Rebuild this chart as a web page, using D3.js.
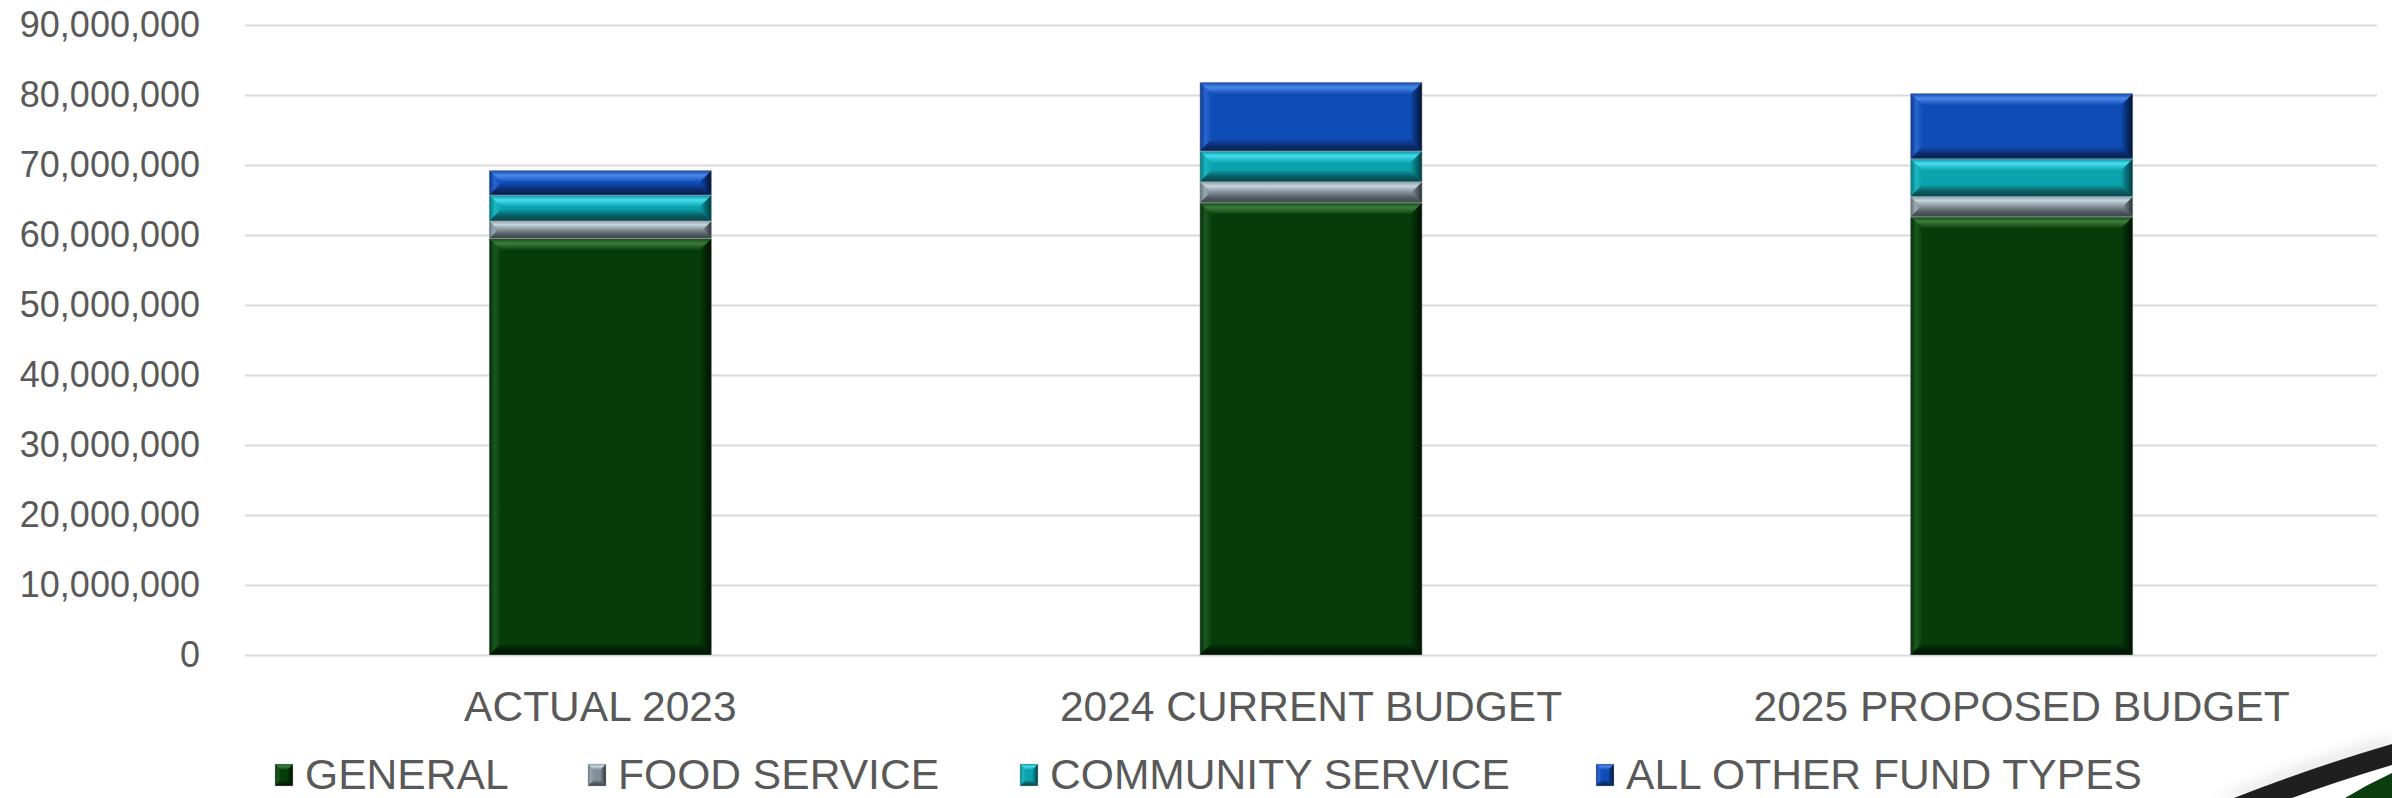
<!DOCTYPE html>
<html>
<head>
<meta charset="utf-8">
<script src="https://cdn.jsdelivr.net/npm/d3@7"></script>
<style>
  html, body { margin: 0; padding: 0; background: #ffffff; }
  svg { display: block; }
  text { font-family: "Liberation Sans", Arial, Helvetica, sans-serif; fill: #595959; }
</style>
</head>
<body>
<svg id="chart" width="2392" height="798"></svg>
<script>
// ---- data ----
const categories = ["ACTUAL 2023", "2024 CURRENT BUDGET", "2025 PROPOSED BUDGET"];
const seriesNames = ["GENERAL", "FOOD SERVICE", "COMMUNITY SERVICE", "ALL OTHER FUND TYPES"];
const general          = [59500000, 64600000, 62600000];
const foodService      = [2500000, 3000000, 2900000];
const communityService = [3700000, 4400000, 5400000];
const allOther         = [3500000, 9800000, 9300000];
const yTicks = [0, 10000000, 20000000, 30000000, 40000000, 50000000, 60000000, 70000000, 80000000, 90000000];

// ---- styles (per series palette) ----
const palettes = [
  { base: "#063c0a", top0: "#0f4a13", hi: "#3c7c3c", bot: "#021f05", botEdge: "#011203", right: "#001000", left0: "#03280a", left1: "#1a5a1e" },
  { base: "#818f97", top0: "#8e9ca4", hi: "#c6d6de", bot: "#4f5a60", botEdge: "#3a4348", right: "#2a3034", left0: "#5d6a71", left1: "#9aa9b1" },
  { base: "#0aa2ac", top0: "#0b8f98", hi: "#46def0", bot: "#0a5e64", botEdge: "#074549", right: "#04393d", left0: "#06727a", left1: "#1ab7c2" },
  { base: "#0e4cb6", top0: "#1546a6", hi: "#4a88ea", bot: "#0c2d6e", botEdge: "#0a1f4d", right: "#03122e", left0: "#0a3486", left1: "#2a66d2" }
];
const seriesData = [general, foodService, communityService, allOther];

const svg = d3.select("#chart");
const plotLeft = 245, plotRight = 2377, plotTop = 25, plotBottom = 655;

const x = d3.scaleBand().domain(categories).range([plotLeft, plotRight]).padding(0);
const y = d3.scaleLinear().domain([0, 90000000]).range([plotBottom, plotTop]);
const barW = x.bandwidth() * 0.3125;

// ---- gradients ----
const defs = svg.append("defs");
palettes.forEach((p, i) => {
  const tg = defs.append("linearGradient").attr("id", "top" + i).attr("x1", 0).attr("y1", 0).attr("x2", 0).attr("y2", 1);
  tg.append("stop").attr("offset", "0%").attr("stop-color", p.top0);
  tg.append("stop").attr("offset", "40%").attr("stop-color", p.hi);
  tg.append("stop").attr("offset", "100%").attr("stop-color", p.base);
  const bg = defs.append("linearGradient").attr("id", "bot" + i).attr("x1", 0).attr("y1", 0).attr("x2", 0).attr("y2", 1);
  bg.append("stop").attr("offset", "0%").attr("stop-color", p.base);
  bg.append("stop").attr("offset", "55%").attr("stop-color", p.bot);
  bg.append("stop").attr("offset", "100%").attr("stop-color", p.botEdge);
  const lg = defs.append("linearGradient").attr("id", "left" + i).attr("x1", 0).attr("y1", 0).attr("x2", 1).attr("y2", 0);
  lg.append("stop").attr("offset", "0%").attr("stop-color", p.left0);
  lg.append("stop").attr("offset", "45%").attr("stop-color", p.left1);
  lg.append("stop").attr("offset", "100%").attr("stop-color", p.base);
  const rg = defs.append("linearGradient").attr("id", "right" + i).attr("x1", 0).attr("y1", 0).attr("x2", 1).attr("y2", 0);
  rg.append("stop").attr("offset", "0%").attr("stop-color", p.base);
  rg.append("stop").attr("offset", "100%").attr("stop-color", p.right);
});
const blur = defs.append("filter").attr("id", "soft").attr("x", "-20%").attr("y", "-50%").attr("width", "140%").attr("height", "200%");
blur.append("feGaussianBlur").attr("stdDeviation", 6);

// ---- grid ----
svg.append("g")
  .attr("transform", `translate(${plotLeft},0)`)
  .call(d3.axisLeft(y).tickValues(yTicks).tickSize(-(plotRight - plotLeft)).tickFormat(""))
  .call(g => g.select(".domain").remove())
  .call(g => g.selectAll("line").attr("stroke", "#d9d9d9").attr("stroke-width", 2));

// ---- y labels ----
svg.append("g")
  .attr("transform", "translate(200,0)")
  .call(d3.axisLeft(y).tickValues(yTicks).tickSize(0).tickPadding(0).tickFormat(d3.format(",")))
  .call(g => g.select(".domain").remove())
  .call(g => g.selectAll("text").attr("font-size", 36).attr("fill", "#595959")
        .style("font-family", '"Liberation Sans", Arial, sans-serif'));

// ---- x labels ----
svg.append("g")
  .attr("transform", `translate(0,${plotBottom})`)
  .call(d3.axisBottom(x).tickSize(0).tickPadding(36))
  .call(g => g.select(".domain").remove())
  .call(g => g.selectAll("text").attr("font-size", 42.5).attr("fill", "#595959")
        .style("font-family", '"Liberation Sans", Arial, sans-serif'));

// ---- bevel drawer ----
function bevel(g, x0, x1, y0, y1, i, bmax) {
  const w = x1 - x0, h = y1 - y0;
  const b = Math.max(0, Math.min(bmax, h / 2, w / 2));
  const pts = a => a.map(p => p.join(",")).join(" ");
  g.append("rect").attr("x", x0).attr("y", y0).attr("width", w).attr("height", h).attr("fill", palettes[i].base);
  g.append("polygon").attr("points", pts([[x0, y0], [x0 + b, y0 + b], [x0 + b, y1 - b], [x0, y1]])).attr("fill", `url(#left${i})`);
  g.append("polygon").attr("points", pts([[x1, y0], [x1 - b, y0 + b], [x1 - b, y1 - b], [x1, y1]])).attr("fill", `url(#right${i})`);
  g.append("polygon").attr("points", pts([[x0, y0], [x1, y0], [x1 - b, y0 + b], [x0 + b, y0 + b]])).attr("fill", `url(#top${i})`);
  g.append("polygon").attr("points", pts([[x0, y1], [x1, y1], [x1 - b, y1 - b], [x0 + b, y1 - b]])).attr("fill", `url(#bot${i})`);
  g.append("rect").attr("x", x0).attr("y", y0).attr("width", w).attr("height", h)
    .attr("fill", "none").attr("stroke", "#b8bcc0").attr("stroke-opacity", 0.45).attr("stroke-width", 1);
}

// ---- stacked bars ----
const rows = categories.map((c, ci) => {
  const r = { cat: c };
  seriesNames.forEach((s, si) => r[s] = seriesData[si][ci]);
  return r;
});
const stack = d3.stack().keys(seriesNames)(rows);
const barsG = svg.append("g");
stack.forEach((layer, si) => {
  layer.forEach(seg => {
    const cx = x(seg.data.cat) + x.bandwidth() / 2;
    bevel(barsG.append("g"), cx - barW / 2, cx + barW / 2, y(seg[1]), y(seg[0]), si, 12);
  });
});

// ---- legend ----
const legend = svg.append("g");
const legendX = [275, 588, 1020, 1596];
const markW = 18, markH = 22, legBase = 789, gapMT = 12;
seriesNames.forEach((name, i) => {
  const lx = legendX[i];
  bevel(legend.append("g"), lx, lx + markW, legBase - 25, legBase - 25 + markH, i, 6);
  legend.append("text").attr("x", lx + markW + gapMT).attr("y", legBase)
    .attr("font-size", 42.6).attr("fill", "#595959").text(name);
});

// ---- decorative swoosh (bottom-right corner) ----
const deco = svg.append("g");
deco.append("path")
  .attr("d", "M2215,798 Q2300,760 2392,735 L2392,752 Q2310,775 2250,798 Z")
  .attr("fill", "#c8c8c8").attr("opacity", 0.35).attr("filter", "url(#soft)");
deco.append("path")
  .attr("d", "M2234,798 Q2310,768 2392,744 L2392,765 Q2335,782 2292,798 Z")
  .attr("fill", "#1f1f1f");
deco.append("path")
  .attr("d", "M2345,798 Q2368,784 2392,773 L2392,798 Z")
  .attr("fill", "#0b3d0e");
</script>
</body>
</html>
